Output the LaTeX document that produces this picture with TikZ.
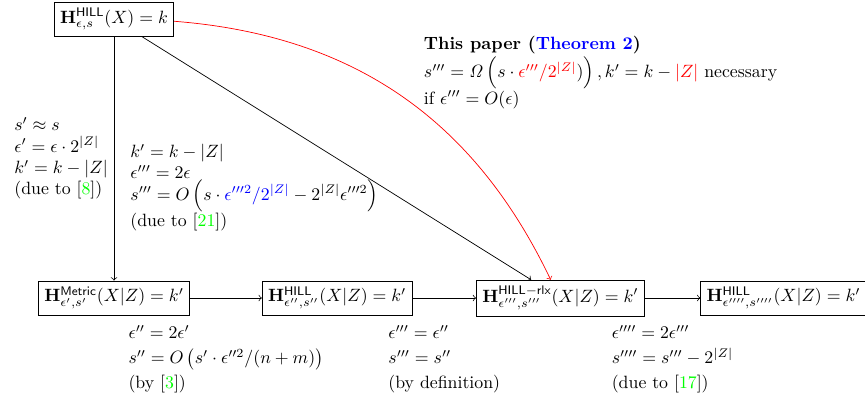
\documentclass[tikz,border=0pt]{standalone}
\usepackage{xcolor}
\begin{document}
\begin{tikzpicture}[
  node distance=4.41cm,
  box/.style={draw},
  note/.style={align=left},
  arrow/.style={->}
]
\useasboundingbox (-2.253,-2.016) rectangle (14.84,5.889);
\node[box] (n1) {$\mathbf{H}^{\mathsf{Metric}}_{\epsilon',s'}(X|Z) = k'$};
\node[box] (n2) [right of=n1] {$\mathbf{H}^{\mathsf{HILL}}_{\epsilon'',s''}(X|Z) = k'$};
\node[box] (n3) [right of=n2] {$\mathbf{H}^{\mathsf{HILL-rlx}}_{\epsilon''',s'''}(X|Z) = k'$};
\node[box] (n4) [right of=n3] {$\mathbf{H}^{\mathsf{HILL}}_{\epsilon'''',s''''}(X|Z) = k'$};
\node[box] (top) [above of=n1, node distance=5.51cm] {$\mathbf{H}^{\mathsf{HILL}}_{\epsilon,s}(X) = k$};
\draw[arrow] (top) -- (n1) node[midway, left, note] {$s' \approx s$\\$\epsilon' = \epsilon\cdot 2^{|Z|}$\\$k' = k - |Z|$\\(due to [\textcolor{green}{8}])};
\draw[arrow] (n1) -- (n2) node[midway, below=0.42cm, note] {$\epsilon'' = 2\epsilon'$\\[2pt]$s'' = O\,\bigl(s'\cdot\epsilon''^2/(n+m)\bigr)$\\[2pt](by [\textcolor{green}{3}])};
\draw[arrow] (n2) -- (n3) node[midway, below=0.42cm, note] {$\epsilon''' = \epsilon''$\\[2pt]$s''' = s''$\\[2pt](by definition)};
\draw[arrow] (n3) -- (n4) node[midway, below=0.42cm, note] {$\epsilon'''' = 2\epsilon'''$\\[2pt]$s'''' = s''' - 2^{|Z|}$\\[2pt](due to [\textcolor{green}{17}])};
\draw[arrow] (top) -- (n3);
\draw[arrow, red] (top) to[bend left] (n3);
% bounds from the earlier work
\node[note, anchor=west] (cite) at (0.2,2.18) {$k' = k - |Z|$\\$\epsilon''' = 2\epsilon$\\$s''' = O\,\Bigl(s\cdot\textcolor{blue}{\epsilon'''^2/2^{|Z|}} - 2^{|Z|}\epsilon'''^2\Bigr)$\\(due to [\textcolor{green}{21}])};
% our result
\node[note, anchor=west] (paper) at (6.0,4.46) {\textbf{This paper (\textcolor{blue}{Theorem 2})}\\[1pt]$s''' = \mathit{\Omega}\,\Bigl(s\cdot\textcolor{red}{\epsilon'''/2^{|Z|}})\Bigr)\,, k' = k - \textcolor{red}{|Z|}$ necessary\\if $\epsilon''' = O(\epsilon)$};
\end{tikzpicture}
\end{document}
